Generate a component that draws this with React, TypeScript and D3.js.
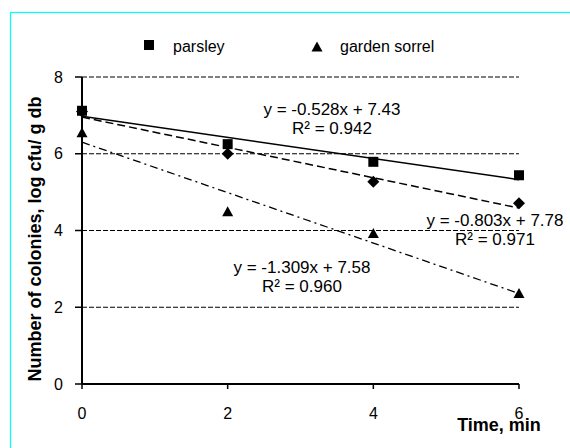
import React from 'react';
import * as d3 from 'd3';

// time, min
const times = [0, 2, 4, 6];
// log cfu / g db
const parsley = [7.12, 6.25, 5.79, 5.44];
const thirdSeries = [7.1, 6.0, 5.27, 4.71];
const gardenSorrel = [6.55, 4.49, 3.92, 2.36];
const yTicks = [0, 2, 4, 6, 8];
const xTicks = [0, 2, 4, 6];
const equations = [
  { eq: 'y = -0.528x + 7.43', r2: 'R² = 0.942', cx: 332, cy: 109 },
  { eq: 'y = -0.803x + 7.78', r2: 'R² = 0.971', cx: 495, cy: 220 },
  { eq: 'y = -1.309x + 7.58', r2: 'R² = 0.960', cx: 302, cy: 267 },
];

const W = 570, H = 448;
const font = '"Liberation Sans", Arial, sans-serif';

// least squares fit, used for the trend lines
function fit(xs: number[], ys: number[]) {
  const mx = d3.mean(xs)!, my = d3.mean(ys)!;
  const sxy = d3.sum(xs, (x, i) => (x - mx) * (ys[i] - my));
  const sxx = d3.sum(xs, x => (x - mx) * (x - mx));
  const b = sxy / sxx;
  return { a: my - b * mx, b };
}

export default function App() {
  const x = d3.scaleLinear().domain([0, 6]).range([82, 519]);
  const y = d3.scaleLinear().domain([0, 8]).range([384, 77]);
  const line = d3.line<[number, number]>().x(d => x(d[0])).y(d => y(d[1]));
  const trend = (ys: number[]) => {
    const f = fit(times, ys);
    return line([[0, f.a], [6, f.a + 6 * f.b]]) as string;
  };
  const sq = (cx: number, cy: number, s = 10) => (
    <rect x={cx - s / 2} y={cy - s / 2} width={s} height={s} fill="#000" />
  );
  const tri = (cx: number, cy: number, s = 11) =>
    `M${cx},${cy - s / 2}L${cx + s / 2},${cy + s / 2 - 1}L${cx - s / 2},${cy + s / 2 - 1}Z`;
  const dia = (cx: number, cy: number, s = 6) =>
    `M${cx},${cy - s}L${cx + s},${cy}L${cx},${cy + s}L${cx - s},${cy}Z`;

  return (
    <svg width={W} height={H} style={{ position: 'absolute', left: 0, top: 0, background: '#fff' }} fontFamily={font}>
      <rect x={10.5} y={12.5} width={W} height={H} fill="#fff" stroke="#00ffff" strokeWidth={1.2} />
      {/* gridlines */}
      {yTicks.filter(t => t > 0).map(t => (
        <line key={t} x1={x(0)} x2={x(6)} y1={y(t)} y2={y(t)} stroke="#000" strokeWidth={1} strokeDasharray="5,2" />
      ))}
      {/* y axis */}
      <line x1={x(0)} x2={x(0)} y1={y(8)} y2={y(0)} stroke="#000" strokeWidth={2} />
      {yTicks.map(t => (
        <g key={t}>
          <line x1={75} x2={x(0)} y1={y(t)} y2={y(t)} stroke="#000" strokeWidth={1.5} />
          <text x={63} y={y(t)} textAnchor="end" dominantBaseline="central" fontSize={16}>{t}</text>
        </g>
      ))}
      {/* x axis */}
      <line x1={x(0)} x2={x(6)} y1={y(0)} y2={y(0)} stroke="#000" strokeWidth={2} />
      {xTicks.map(t => (
        <g key={t}>
          <line x1={x(t)} x2={x(t)} y1={y(0)} y2={y(0) + 5} stroke="#000" strokeWidth={1.5} />
          <text x={x(t)} y={413} textAnchor="middle" dominantBaseline="central" fontSize={16}>{t}</text>
        </g>
      ))}
      {/* trend lines */}
      <path d={trend(parsley)} fill="none" stroke="#000" strokeWidth={1.5} />
      <path d={trend(thirdSeries)} fill="none" stroke="#000" strokeWidth={1.5} strokeDasharray="8,4" />
      <path d={trend(gardenSorrel)} fill="none" stroke="#000" strokeWidth={1.3} strokeDasharray="8,4,2,4" />
      {/* markers */}
      {times.map((t, i) => <path key={'d' + t} d={dia(x(t), y(thirdSeries[i]))} fill="#000" />)}
      {times.map((t, i) => <path key={'t' + t} d={tri(x(t), y(gardenSorrel[i]))} fill="#000" />)}
      {times.map((t, i) => <g key={'s' + t}>{sq(x(t), y(parsley[i]))}</g>)}
      {/* equations */}
      {equations.map(e => (
        <g key={e.eq} fontSize={17}>
          <text x={e.cx} y={e.cy} textAnchor="middle" dominantBaseline="central">{e.eq}</text>
          <text x={e.cx} y={e.cy + 19} textAnchor="middle" dominantBaseline="central">{e.r2}</text>
        </g>
      ))}
      {/* legend */}
      {sq(149, 45, 10)}
      <text x={173} y={46} dominantBaseline="central" fontSize={16}>parsley</text>
      <path d={tri(317, 47, 11)} fill="#000" />
      <text x={340} y={46} dominantBaseline="central" fontSize={16}>garden sorrel</text>
      {/* axis titles */}
      <text transform="translate(35,239) rotate(-90)" textAnchor="middle" dominantBaseline="central" fontSize={18} fontWeight="bold">
        Number of colonies, log cfu/ g db
      </text>
      <text x={499} y={425} textAnchor="middle" dominantBaseline="central" fontSize={18} fontWeight="bold">Time, min</text>
    </svg>
  );
}
